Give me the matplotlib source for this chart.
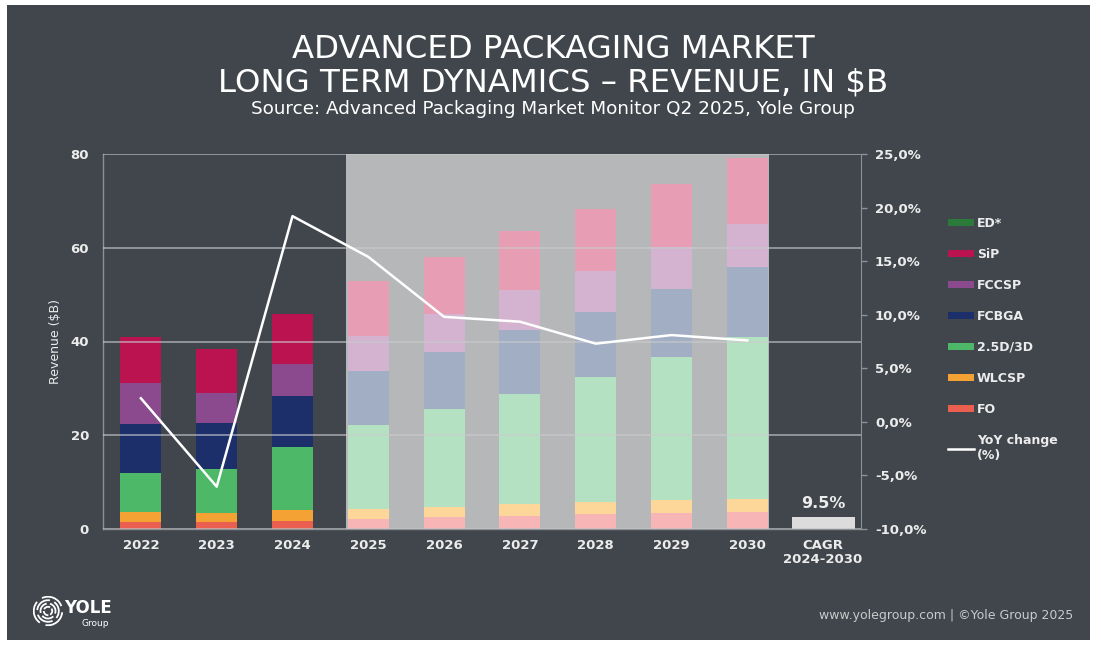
import matplotlib
matplotlib.use("Agg")
import matplotlib.pyplot as plt
from matplotlib.patches import Patch, Rectangle, Arc
from matplotlib.lines import Line2D
from matplotlib.ticker import FuncFormatter, MultipleLocator
import numpy as np

plt.rcParams['font.family'] = ['DejaVu Sans']

# ---------------- data ----------------
years = ['2022', '2023', '2024', '2025', '2026', '2027', '2028', '2029', '2030']
cagr_label = 'CAGR\n2024-2030'
fo = [1.6, 1.6, 1.8, 2.1, 2.5, 2.8, 3.2, 3.5, 3.7]
wlcsp = [2.1, 1.9, 2.25, 2.2, 2.3, 2.5, 2.6, 2.7, 2.6]
d25 = [8.3, 9.4, 13.5, 17.9, 20.7, 23.6, 26.6, 30.4, 34.7]
fcbga = [10.4, 9.8, 10.8, 11.5, 12.3, 13.6, 14.0, 14.5, 14.8]
fccsp = [8.8, 6.4, 6.9, 7.5, 8.1, 8.5, 8.7, 9.0, 9.3]
sip = [9.8, 9.4, 10.7, 11.8, 12.2, 12.6, 13.1, 13.6, 14.0]
ed = [0.0, 0.0, 0.0, 0.0, 0.0, 0.0, 0.0, 0.0, 0.0]
yoy = [2.2, -6.05, 19.2, 15.4, 9.8, 9.35, 7.3, 8.1, 7.6]
cagr_value = 9.5
cagr_bar = 2.6
n_actual = 3

series = [('FO', fo), ('WLCSP', wlcsp), ('2.5D/3D', d25), ('FCBGA', fcbga),
          ('FCCSP', fccsp), ('SiP', sip), ('ED*', ed)]
dark_cols = {'FO': '#ea5f4f', 'WLCSP': '#f4a233', '2.5D/3D': '#4cb868',
             'FCBGA': '#1d2f6b', 'FCCSP': '#8a4a8d', 'SiP': '#bb1350', 'ED*': '#2a7a3a'}
light_cols = {'FO': '#f7b5b5', 'WLCSP': '#fdd699', '2.5D/3D': '#b4e1c1',
              'FCBGA': '#a2aec3', 'FCCSP': '#d3b3d0', 'SiP': '#e79db4', 'ED*': '#8fc29a'}

BG = '#40464c'
TXT = '#ececec'
GRIDC = '#c9cbcd'

fig = plt.figure(figsize=(11.01, 6.46), dpi=100, facecolor='white')
fig.patches.append(Rectangle((7 / 1101, 6 / 646), (1090 - 7) / 1101, (641 - 6) / 646,
                             transform=fig.transFigure, facecolor=BG, edgecolor='none', zorder=-5))

ax = fig.add_axes([103 / 1101, 1 - 529 / 646, (861 - 103) / 1101, (529 - 154) / 646])
ax.set_facecolor('none')

x = np.arange(len(years))
xc = len(years)
w = 0.54

ax.axvspan(2.71, 8.28, color='#b5b7b8', zorder=0.2, lw=0)

bottom = np.zeros(len(years))
for name, vals in series:
    vals = np.array(vals, dtype=float)
    cols = [dark_cols[name] if i < n_actual else light_cols[name] for i in range(len(years))]
    ax.bar(x, vals, w, bottom=bottom, color=cols, zorder=2, lw=0)
    bottom += vals

ax.bar([xc], [cagr_bar], 0.83, color='#dcdcdc', zorder=2, lw=0)
ax.text(xc, cagr_bar + 1.3, f'{cagr_value}%', ha='center', va='bottom', color=TXT,
        fontsize=11.5, fontweight='bold')

ax.set_xlim(-0.5, 9.5)
ax.set_ylim(0, 80)
ax.yaxis.set_major_locator(MultipleLocator(20))
ax.grid(axis='y', color=GRIDC, lw=1.1, alpha=0.75, zorder=0.5)
ax.set_axisbelow(False)
for gl in ax.get_ygridlines():
    gl.set_zorder(0.5)
ax.set_xticks(list(x) + [xc])
ax.set_xticklabels(years + [cagr_label], color=TXT, fontsize=9.5, fontweight='bold', linespacing=1.1)
ax.tick_params(axis='x', length=0, pad=7)
ax.tick_params(axis='y', length=0, pad=10, labelcolor=TXT, labelsize=9.5)
for t in ax.get_yticklabels():
    t.set_fontweight('bold')
ax.set_ylabel('Revenue ($B)', color=TXT, fontsize=9)
ax.yaxis.set_label_coords(-0.054, 0.5)
for s in ['top', 'right']:
    ax.spines[s].set_visible(False)
for s in ['left', 'bottom']:
    ax.spines[s].set_color('#8d9196')
    ax.spines[s].set_linewidth(1.0)

ax2 = ax.twinx()
ax2.set_ylim(-10, 25)
ax2.yaxis.set_major_locator(MultipleLocator(5))
ax2.yaxis.set_major_formatter(FuncFormatter(lambda v, p: f'{v:.1f}%'.replace('.', ',')))
ax2.plot(x, yoy, color='white', lw=1.8, zorder=5)
ax2.tick_params(axis='y', length=4, width=1, color='#8d9196', labelcolor=TXT, labelsize=9.5, pad=6)
for t in ax2.get_yticklabels():
    t.set_fontweight('bold')
for s in ['top', 'left', 'bottom']:
    ax2.spines[s].set_visible(False)
ax2.spines['right'].set_color('#8d9196')

# legend
names = ['ED*', 'SiP', 'FCCSP', 'FCBGA', '2.5D/3D', 'WLCSP', 'FO']
handles = [Patch(facecolor=dark_cols[n], edgecolor='none') for n in names]
labels = list(names)
handles.append(Line2D([0], [0], color='white', lw=1.8))
labels.append('YoY change\n(%)')
leg = fig.legend(handles, labels, loc='upper left', bbox_to_anchor=(948 / 1101, 1 - 217 / 646),
                 frameon=False, fontsize=9, handlelength=2.1, handleheight=0.55,
                 handletextpad=0.2, labelspacing=1.44, borderpad=0, borderaxespad=0)
for t in leg.get_texts():
    t.set_color(TXT)
    t.set_fontweight('bold')

# titles
fig.text(553 / 1101, 1 - 49 / 646, 'ADVANCED PACKAGING MARKET', ha='center', va='center',
         color='white', fontsize=23.3)
fig.text(553 / 1101, 1 - 83 / 646, 'LONG TERM DYNAMICS – REVENUE, IN $B', ha='center', va='center',
         color='white', fontsize=23.3)
fig.text(553 / 1101, 1 - 109 / 646, 'Source: Advanced Packaging Market Monitor Q2 2025, Yole Group',
         ha='center', va='center', color='white', fontsize=13.2)

# footer
fig.text(1073 / 1101, 1 - 616 / 646, 'www.yolegroup.com | ©Yole Group 2025', ha='right', va='center',
         color='#c8cacc', fontsize=9)
fig.text(64 / 1101, 1 - 608 / 646, 'YOLE', ha='left', va='center', color='white', fontsize=12,
         fontweight='bold')
fig.text(82 / 1101, 1 - 624 / 646, 'Group', ha='left', va='center', color='white', fontsize=6.5)
lax = fig.add_axes([33 / 1101, 1 - 626 / 646, 30 / 1101, 30 / 646])
lax.set_xlim(-1, 1); lax.set_ylim(-1, 1); lax.set_aspect('equal'); lax.axis('off')
for r, a0 in [(0.95, 20), (0.72, 200), (0.5, 100), (0.28, 300)]:
    for k in range(3):
        lax.add_patch(Arc((0, 0), 2 * r, 2 * r, theta1=a0 + k * 120, theta2=a0 + k * 120 + 95,
                          color='white', lw=1.3))

fig.savefig('out.png', dpi=100, facecolor=fig.get_facecolor())
